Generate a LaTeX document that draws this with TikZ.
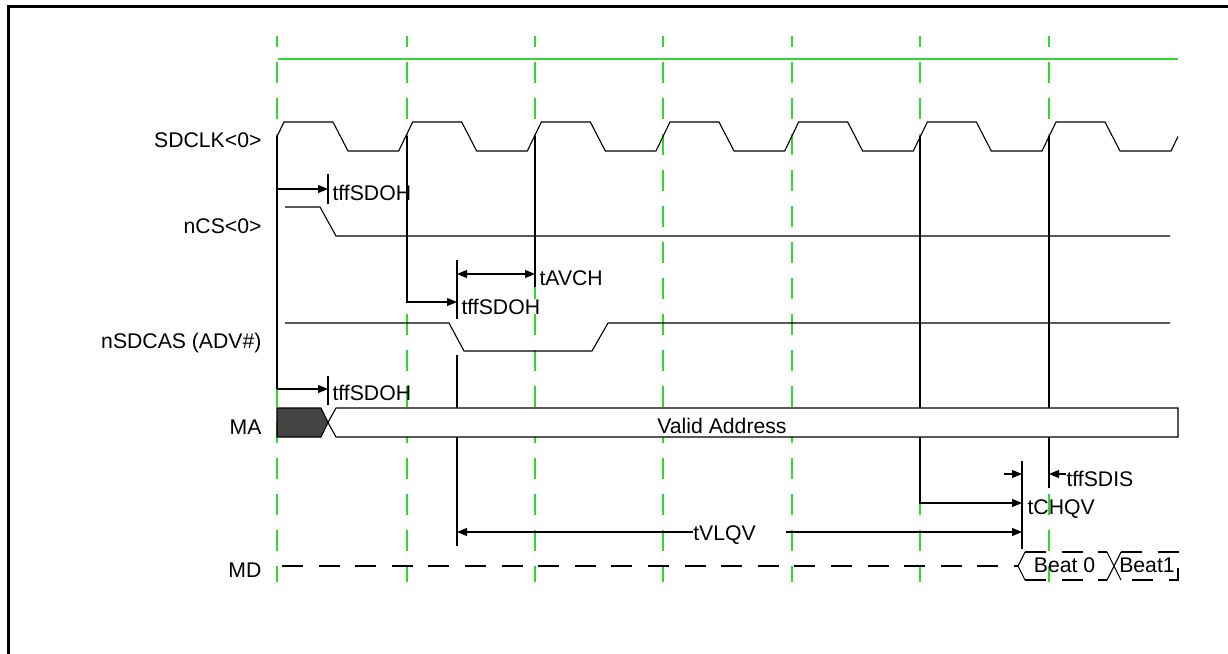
\documentclass[tikz,border=0pt]{standalone}
\usepackage{fontspec}
\setmainfont{Liberation Sans}
\usetikzlibrary{arrows.meta}
\definecolor{gridgreen}{RGB}{50,215,50}
\definecolor{busdark}{RGB}{68,68,68}
\begin{document}
\begin{tikzpicture}[x=0.5pt, y=-0.5pt, line width=0.55pt,
                    every node/.style={font=\fontsize{10.6}{12}\selectfont, inner sep=0pt},
                    tarrow/.style={-{Triangle[length=5pt,width=4pt]}},
                    gridline/.style={gridgreen, line width=0.75pt, dash pattern=on 10.5pt off 7.5pt, dash phase=5pt},
                    mddash/.style={dash pattern=on 10.5pt off 7.8pt}]
                    \useasboundingbox (0,0) rectangle (1228,654);
                    \draw[line width=1.2pt] (8.5,654) -- (8.5,6.5) -- (1228,6.5);
                    \foreach \gx in {277,407,535,663,792,920,1049}
                        \draw[gridline] (\gx,36) -- (\gx,582);
                    \draw[gridgreen, line width=0.75pt] (278,59) -- (1178,59);
                    \node[anchor=east] (sdclk) at (262,140.5) {SDCLK<0>};
                    \node[anchor=east] (ncs) at (262,226.5) {nCS<0>};
                    \node[anchor=east] (nsdcas) at (262,343) {nSDCAS (ADV\#)};
                    \node[anchor=east] (ma) at (262,427.5) {MA};
                    \node[anchor=east] (md) at (262,570.5) {MD};
                    \draw (277,136.5) -- (284,122)
                        \foreach \k in {0,...,5} {
                            -- ({277+128.67*\k+56},122) -- ({277+128.67*\k+71},151)
                            -- ({277+128.67*(\k+1)-7},151) -- ({277+128.67*(\k+1)+7},122)
                        }
                        -- (1105,122) -- (1120,151) -- (1171,151) -- (1178,136.5);
                    \draw (285,207) -- (320,207) -- (336,236) -- (1170,236);
                    \draw (285,323) -- (449,323) -- (464,351) -- (592,351) -- (608,323) -- (1170,323);
                    \draw (277,136) -- (277,389);
                    \draw[tarrow] (277,189) -- (328,189);
                    \draw (328,174) -- (328,204);
                    \node[anchor=west] (sdoh1) at (332,192.5) {tffSDOH};
                    \draw[tarrow] (407,136) |- (457,302);
                    \draw (457,260) -- (457,319);
                    \node[anchor=west] (sdoh2) at (461,306.5) {tffSDOH};
                    \draw (535,136) -- (535,287);
                    \draw[{Triangle[length=5pt,width=4pt]}-{Triangle[length=5pt,width=4pt]}] (457,274) -- (535,274);
                    \node[anchor=west] (avch) at (539,278) {tAVCH};
                    \draw (457,355) -- (457,546);
                    \draw[tarrow] (277,389) -- (328,389);
                    \draw (328,376) -- (328,405);
                    \node[anchor=west] (sdoh3) at (332,393) {tffSDOH};
                    \draw[tarrow] (920,136) |- (1022,503);
                    \draw (1049,136) -- (1049,488);
                    \draw (1022,461) -- (1022,549);
                    \node[anchor=west] (chqv) at (1027,509) {tCHQV};
                    \draw[tarrow] (1004,474) -- (1022,474);
                    \draw[tarrow] (1066,474) -- (1049,474);
                    \node[anchor=west] (sdis) at (1066,479) {tffSDIS};
                    \node (vlqv) at (724.5,535) {tVLQV};
                    \draw[tarrow] (693,532) -- (457,532);
                    \draw[tarrow] (786,532) -- (1022,532);
                    \filldraw[fill=busdark] (277,408) -- (321,408) -- (328,422.5) -- (321,437) -- (277,437) -- cycle;
                    \filldraw[fill=white] (328,422.5) -- (336,408) -- (1178,408) -- (1178,437) -- (336,437) -- cycle;
                    \node (valid) at (722,426) {Valid Address};
                    \draw[mddash] (282,566) -- (1018,566);
                    \draw (1025,552) -- (1018,566) -- (1025,580);
                    \draw (1107,552) -- (1121,580) (1107,580) -- (1121,552);
                    \draw[mddash] (1025,552) -- (1107,552) (1025,580) -- (1107,580);
                    \draw[mddash] (1121,552) -- (1178,552) -- (1178,580) -- (1121,580);
                    \node (beat0) at (1064.5,565) {Beat 0};
                    \node (beat1) at (1147,565) {Beat1};
                \end{tikzpicture}
\end{document}
